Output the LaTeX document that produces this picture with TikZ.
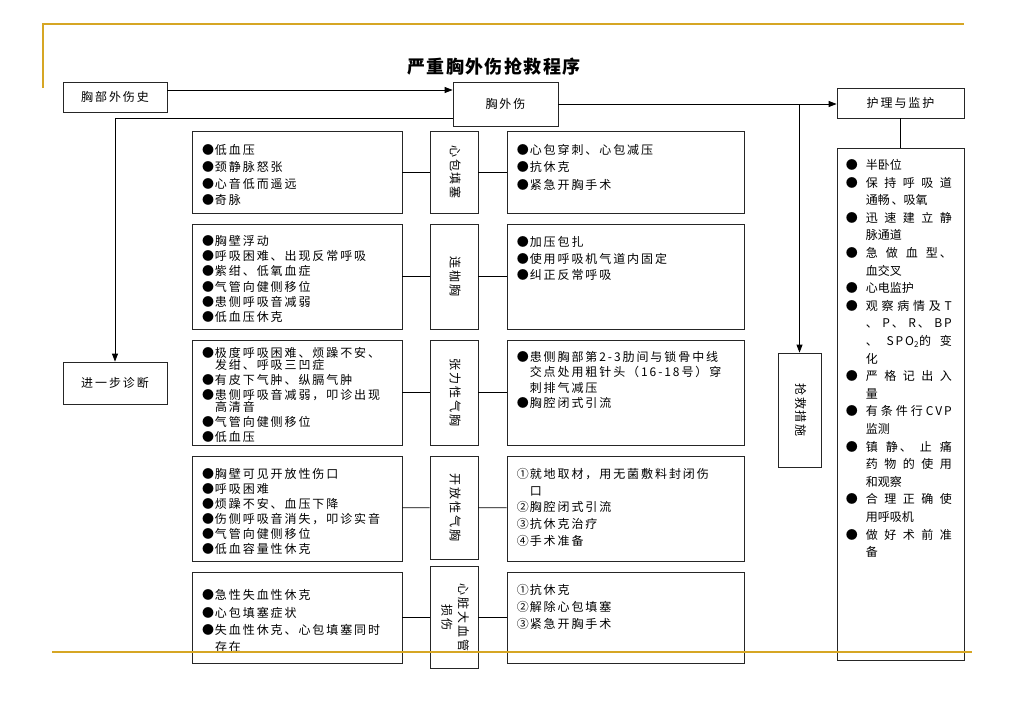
\documentclass[tikz,border=0pt]{standalone}
\usepackage{fontspec}
\setmainfont{Noto Sans CJK SC}[LetterSpace=16]
\newfontfamily\titlefont{Noto Sans CJK SC}[LetterSpace=8]
\usetikzlibrary{arrows.meta}
\definecolor{gold}{RGB}{214,166,36}
% item with hanging marker
\newcommand{\itm}[3][13pt]{\par\noindent\hangindent=#1\hangafter=1\makebox[#1][l]{#2}#3\par}
% vertical label text
\newcommand{\vtext}[1]{\rotatebox{-90}{\begin{tabular}{@{}c@{}}#1\end{tabular}}}
\newcommand{\zhbreak}{\XeTeXlinebreaklocale "zh"\XeTeXlinebreakskip=0pt plus 6pt\relax}
\newcommand{\tightlines}{\lineskiplimit=-20pt\relax}
\newcommand{\itemgap}{\parskip=3.2pt\relax}
\begin{document}
\begin{tikzpicture}[x=1pt,y=-1pt,>={Triangle[length=8pt,width=6pt]},
  font=\fontsize{12pt}{16.5pt}\selectfont,
  box/.style={draw=black!85, line width=0.8pt, inner sep=0pt},
  lbox/.style={box, text width=190pt, inner xsep=10pt, align=left, font=\fontsize{12pt}{#1}\selectfont\tightlines},
  lbox/.default=16.5pt,
  mid/.style={box, minimum width=48pt},
  rbox/.style={box, minimum width=237pt},
  rtxt/.style={anchor=north west, text width=217pt, inner xsep=10pt, inner ysep=6pt, align=left, font=\fontsize{12pt}{#1}\selectfont\tightlines},
  rtxt/.default=16.5pt,
  link/.style={line width=0.8pt}]
\useasboundingbox (0,0) rectangle (1024,725);

\node[font=\fontsize{18pt}{20pt}\titlefont\bfseries] (title) at (494,67) {严重胸外伤抢救程序};

\node[box, minimum width=104pt, minimum height=30pt] (hist) at (115,97) {胸部外伤史};
\node[box, minimum width=105pt, minimum height=44pt] (chest) at (505.5,104) {胸外伤};
\node[box, minimum width=127pt, minimum height=30pt] (care) at (900.5,103) {护理与监护};
\node[box, minimum width=104pt, minimum height=42pt] (diag) at (115,383) {进一步诊断};
\node[box, minimum width=43pt, minimum height=114pt] (rescue) at (799.5,410) {\vtext{抢救措施}};

% symptoms
\node[lbox=16.7pt, minimum height=82pt] (l1) at (297,172) {%
\itm{●}{低血压}
\itm{●}{颈静脉怒张}
\itm{●}{心音低而遥远}
\itm{●}{奇脉}};
\node[lbox=15.3pt, minimum height=105pt] (l2) at (297,276.5) {%
\itm{●}{胸壁浮动}
\itm{●}{呼吸困难、出现反常呼吸}
\itm{●}{紫绀、低氧血症}
\itm{●}{气管向健侧移位}
\itm{●}{患侧呼吸音减弱}
\itm{●}{低血压休克}};
\node[lbox=11.8pt, minimum height=105pt] (l3) at (297,392.5) {\itemgap
\itm{●}{极度呼吸困难、烦躁不安、\newline 发绀、呼吸三凹症}
\itm{●}{有皮下气肿、纵膈气肿}
\itm{●}{患侧呼吸音减弱，叩诊出现\newline 高清音}
\itm{●}{气管向健侧移位}
\itm{●}{低血压}};
\node[lbox=15pt, minimum height=105pt] (l4) at (297,508.5) {%
\itm{●}{胸壁可见开放性伤口}
\itm{●}{呼吸困难}
\itm{●}{烦躁不安、血压下降}
\itm{●}{伤侧呼吸音消失，叩诊实音}
\itm{●}{气管向健侧移位}
\itm{●}{低血容量性休克}};
\node[lbox=17.3pt, minimum height=91pt] (l5) at (297,617.5) {%
\itm{●}{急性失血性休克}
\itm{●}{心包填塞症状}
\itm{●}{失血性休克、心包填塞同时\newline 存在}};

% injuries
\node[mid, minimum height=82pt] (m1) at (454,172) {\vtext{心包填塞}};
\node[mid, minimum height=105pt] (m2) at (454,276.5) {\vtext{连枷胸}};
\node[mid, minimum height=105pt] (m3) at (454,392.5) {\vtext{张力性气胸}};
\node[mid, minimum height=103pt] (m4) at (454,507.5) {\vtext{开放性气胸}};
\node[mid, minimum height=102pt] (m5) at (454,617.5) {\vtext{心脏大血管\\损伤}};

% treatment
\node[rbox, minimum height=82pt] (r1) at (625.5,172) {};
\node[rbox, minimum height=105pt] (r2) at (625.5,276.5) {};
\node[rbox, minimum height=105pt] (r3) at (625.5,392.5) {};
\node[rbox, minimum height=105pt] (r4) at (625.5,508.5) {};
\node[rbox, minimum height=91pt] (r5) at (625.5,617.5) {};
\node[rtxt=17.5pt] (t1) at (r1.north west) {%
\itm{●}{心包穿刺、心包减压}
\itm{●}{抗休克}
\itm{●}{紧急开胸手术}};
\node[rtxt=16.7pt] (t2) at (r2.north west) {%
\itm{●}{加压包扎}
\itm{●}{使用呼吸机气道内固定}
\itm{●}{纠正反常呼吸}};
\node[rtxt=15.5pt] (t3) at (r3.north west) {%
\itm{●}{患侧胸部第2-3肋间与锁骨中线\newline 交点处用粗针头（16-18号）穿\newline 刺排气减压}
\itm{●}{胸腔闭式引流}};
\node[rtxt=16.7pt] (t4) at (r4.north west) {%
\itm{①}{就地取材，用无菌敷料封闭伤\newline 口}
\itm{②}{胸腔闭式引流}
\itm{③}{抗休克治疗}
\itm{④}{手术准备}};
\node[rtxt=17pt] (t5) at (r5.north west) {%
\itm{①}{抗休克}
\itm{②}{解除心包填塞}
\itm{③}{紧急开胸手术}};

% nursing
\node[box, minimum width=127pt, minimum height=512pt] (list) at (900.5,404) {};
\node[anchor=north west, text width=106pt, inner xsep=9pt, inner ysep=4pt, align=justify,
  font=\fontsize{12pt}{17.6pt}\selectfont\zhbreak] (t6) at (list.north west) {%
\itm[20pt]{●}{半卧位}
\itm[20pt]{●}{保持呼吸道\linebreak 通畅、吸氧}
\itm[20pt]{●}{迅速建立静\linebreak 脉通道}
\itm[20pt]{●}{急做血型、\linebreak 血交叉}
\itm[20pt]{●}{心电监护}
\itm[20pt]{●}{观察病情及T\linebreak 、P、R、BP\linebreak 、SPO\textsubscript{2}的变\linebreak 化}
\itm[20pt]{●}{严格记出入\linebreak 量}
\itm[20pt]{●}{有条件行CVP\linebreak 监测}
\itm[20pt]{●}{镇静、止痛\linebreak 药物的使用\linebreak 和观察}
\itm[20pt]{●}{合理正确使\linebreak 用呼吸机}
\itm[20pt]{●}{做好术前准\linebreak 备}};

% connectors
\draw[link,->] ([yshift=7pt]hist.east) -- ([yshift=7pt]hist.east -| chest.west);
\draw[link,->] ([yshift=-14pt]chest.west) -| (diag.north);
\draw[link,->] (chest.east) -- (chest.east -| care.west);
\draw[link,->] (chest.east -| rescue.north) -- (rescue.north);
\draw[link] (care.south) -- (list.north);
\foreach \i in {1,...,5}
  \draw[link] (l\i) -- (m\i) (m\i) -- (r\i);

% frame lines
\draw[gold, line width=2pt] (43,88) -- (43,24) -- (964,24);
\draw[gold, line width=2pt] (52,652) -- (972,652);
\end{tikzpicture}
\end{document}
